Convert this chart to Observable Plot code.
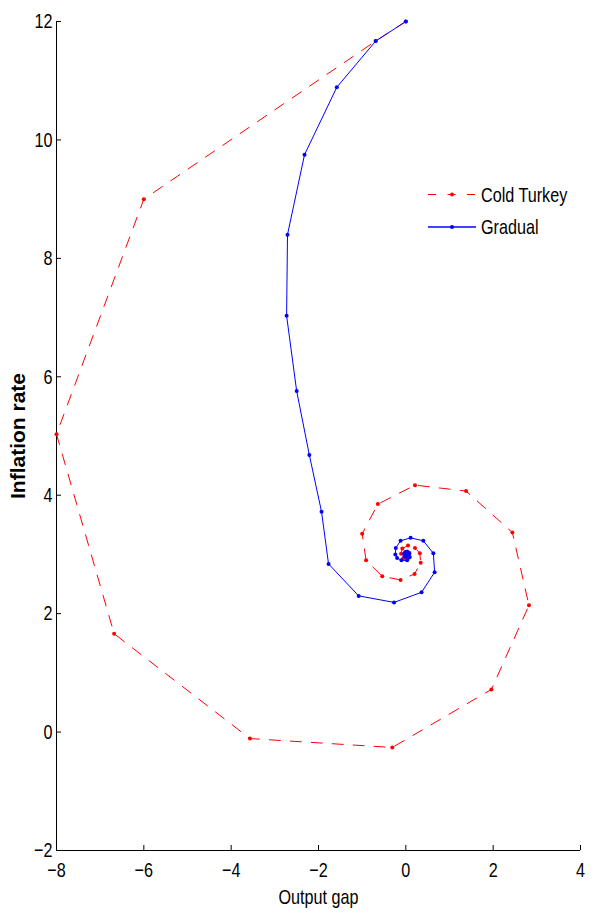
<!DOCTYPE html>
<html>
<head>
<meta charset="utf-8">
<script src="https://cdn.jsdelivr.net/npm/d3@7"></script>
<script src="https://cdn.jsdelivr.net/npm/@observablehq/plot@0.6"></script>
<style>
  html, body { margin: 0; padding: 0; background: #fff; }
  #wrap { position: relative; width: 596px; height: 921px; }
  #legend { position: absolute; left: 0; top: 0; }
</style>
</head>
<body>
<div id="wrap"></div>
<script>
// ---- data ----
const seriesNames = ["Cold Turkey", "Gradual"];
const seriesColors = ["#ff0000", "#0000ff"];

const coldX = [0, -0.69, -6.0, -8.0, -6.68, -3.57, -0.31, 1.96, 2.82, 2.44, 1.38, 0.21, -0.64, -1.0, -0.91, -0.54, -0.12, 0.20, 0.34, 0.32, 0.21, 0.05, -0.08, -0.11, -0.06, 0.03, 0.09, 0.08, 0.03, -0.02, -0.03, 0.0, 0.02, 0.0];
const coldY = [12, 11.67, 9.0, 5.03, 1.66, -0.11, -0.26, 0.72, 2.14, 3.37, 4.07, 4.17, 3.85, 3.35, 2.90, 2.63, 2.57, 2.67, 2.86, 3.02, 3.11, 3.15, 3.10, 3.01, 2.93, 2.91, 2.96, 3.03, 3.05, 3.03, 2.99, 2.97, 2.99, 3.0];

const gradX = [0, -0.69, -1.58, -2.32, -2.71, -2.73, -2.50, -2.21, -1.93, -1.77, -1.08, -0.27, 0.36, 0.66, 0.63, 0.40, 0.11, -0.12, -0.23, -0.24, -0.20, -0.10, 0.03, 0.08, 0.08, 0.04, -0.01, -0.04, -0.03, 0.0, 0.02, 0.02, 0.01, 0.0];
const gradY = [12, 11.67, 10.89, 9.75, 8.40, 7.03, 5.76, 4.68, 3.72, 2.84, 2.30, 2.19, 2.36, 2.70, 3.02, 3.23, 3.28, 3.23, 3.11, 3.0, 2.94, 2.90, 2.90, 2.95, 3.01, 3.04, 3.04, 3.01, 2.97, 2.96, 2.98, 3.0, 3.0, 3.0];

const xDomain = [-8, 4];
const yDomain = [-2, 12];
const xTicks = [-8, -6, -4, -2, 0, 2, 4];
const yTicks = [-2, 0, 2, 4, 6, 8, 10, 12];
const xLabel = "Output gap";
const yLabel = "Inflation rate";

// ---- build ----
const cold = coldX.map((x, i) => ({x, y: coldY[i], s: seriesNames[0]}));
const grad = gradX.map((x, i) => ({x, y: gradY[i], s: seriesNames[1]}));

const FONT = "'Liberation Sans', Arial, Helvetica, sans-serif";
const FS = 21;          // font size
const SQUEEZE = 0.77;   // horizontal compression of text (narrow Helvetica look)
const TICK = 5;         // inward tick length in px
const fmt = d3.format("d");

const W = 596, H = 921;
const mL = 56, mR = 16, mT = 21, mB = 71;
const plotW = W - mL - mR, plotH = H - mT - mB;
// tick length expressed in data units so the rules go through the scales
const tickDX = (xDomain[1] - xDomain[0]) * TICK / plotW;
const tickDY = (yDomain[1] - yDomain[0]) * TICK / plotH;

const chart = Plot.plot({
  width: W, height: H,
  marginLeft: mL, marginRight: mR, marginTop: mT, marginBottom: mB,
  x: {domain: xDomain, ticks: xTicks},
  y: {domain: yDomain, ticks: yTicks},
  style: {fontFamily: FONT, fontSize: FS + "px", background: "#fff", color: "#000", overflow: "visible"},
  marks: [
    // tick labels
    Plot.axisX(xTicks, {anchor: "bottom", tickSize: 0, tickPadding: 12, tickFormat: fmt, label: null, fontSize: FS, className: "sq"}),
    Plot.axisY(yTicks, {anchor: "left", tickSize: 0, tickPadding: 4, tickFormat: fmt, label: null, fontSize: FS, className: "sq"}),
    // inward tick marks
    Plot.ruleX(xTicks, {x: d => d, y1: yDomain[0], y2: yDomain[0] + tickDY, stroke: "#000", strokeWidth: 1}),
    Plot.ruleY(yTicks, {y: d => d, x1: xDomain[0], x2: xDomain[0] + tickDX, stroke: "#000", strokeWidth: 1}),
    // axis lines
    Plot.ruleX([xDomain[0]], {stroke: "#000", strokeWidth: 1}),
    Plot.ruleY([yDomain[0]], {stroke: "#000", strokeWidth: 1}),
    // series
    Plot.line(cold, {x: "x", y: "y", stroke: seriesColors[0], strokeWidth: 1, strokeDasharray: "11,10"}),
    Plot.dot(cold, {x: "x", y: "y", r: 2, fill: seriesColors[0], stroke: "none"}),
    Plot.line(grad, {x: "x", y: "y", stroke: seriesColors[1], strokeWidth: 1}),
    Plot.dot(grad, {x: "x", y: "y", r: 2, fill: seriesColors[1], stroke: "none"}),
    // axis titles
    Plot.text([xLabel], {text: d => d, frameAnchor: "bottom", dy: 53, fontSize: FS, fill: "#000", className: "sq"}),
    Plot.text([yLabel], {text: d => d, frameAnchor: "left", textAnchor: "middle", dx: -38, rotate: -90, fontSize: FS, fontWeight: "bold", fill: "#000"})
  ]
});
document.getElementById("wrap").appendChild(chart);

// ---- legend overlay ----
const ns = "http://www.w3.org/2000/svg";
const leg = document.createElementNS(ns, "svg");
leg.setAttribute("id", "legend");
leg.setAttribute("width", W);
leg.setAttribute("height", H);
leg.style.pointerEvents = "none";
const lx0 = 428, lx1 = 476, ly = [194.5, 227];
seriesNames.forEach((name, i) => {
  const line = document.createElementNS(ns, "line");
  line.setAttribute("x1", lx0); line.setAttribute("x2", lx1);
  line.setAttribute("y1", ly[i]); line.setAttribute("y2", ly[i]);
  line.setAttribute("stroke", seriesColors[i]);
  line.setAttribute("stroke-width", i === 1 ? 1.5 : 1);
  if (i === 0) line.setAttribute("stroke-dasharray", "8,11.5");
  leg.appendChild(line);
  const c = document.createElementNS(ns, "circle");
  c.setAttribute("cx", (lx0 + lx1) / 2); c.setAttribute("cy", ly[i]); c.setAttribute("r", 2);
  c.setAttribute("fill", seriesColors[i]);
  leg.appendChild(c);
  const t = document.createElementNS(ns, "text");
  t.setAttribute("x", 481); t.setAttribute("y", ly[i]);
  t.setAttribute("dy", "0.35em");
  t.setAttribute("font-family", FONT);
  t.setAttribute("font-size", FS);
  t.setAttribute("class", "sqt");
  t.textContent = name;
  leg.appendChild(t);
});
document.getElementById("wrap").appendChild(leg);

// ---- narrow the text like the original's condensed Helvetica ----
const squeeze = el => {
  const len = el.getComputedTextLength();
  if (len > 0) {
    el.setAttribute("textLength", (len * SQUEEZE).toFixed(2));
    el.setAttribute("lengthAdjust", "spacingAndGlyphs");
  }
};
chart.querySelectorAll(".sq text").forEach(squeeze);
leg.querySelectorAll("text.sqt").forEach(squeeze);
</script>
</body>
</html>
